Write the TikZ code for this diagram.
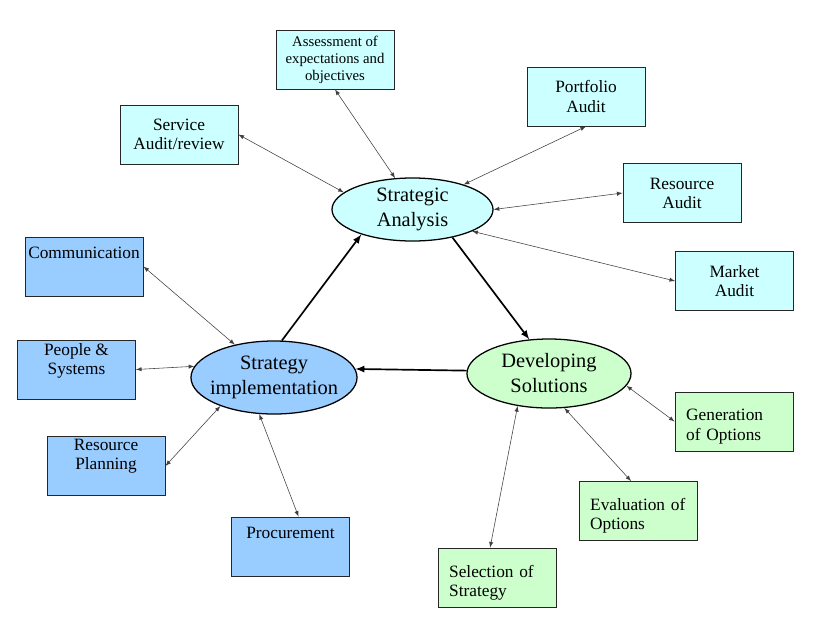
\documentclass[tikz,border=0pt]{standalone}
\usepackage{fontspec}
\setmainfont{Liberation Serif}
\usetikzlibrary{shapes.geometric}

\definecolor{auditcyan}{HTML}{CCFFFF}
\definecolor{planblue}{HTML}{99CCFF}
\definecolor{optgreen}{HTML}{CCFFCC}

\begin{document}
\begin{tikzpicture}[x=0.025cm,y=-0.025cm,
    box/.style={rectangle,draw=black!85,line width=0.6pt,minimum width=2.95cm,minimum height=1.475cm,
      inner sep=0pt,align=center,font=\fontsize{12.3}{13.6}\selectfont},
    audit/.style={box,fill=auditcyan},
    plan/.style={box,fill=planblue},
    option/.style={box,fill=optgreen,text width=68pt,align=left,text depth=9pt},
    lift/.style={text depth=#1},
    hub/.style={ellipse,draw,line width=0.9pt,inner sep=0pt,inner xsep=-4pt,align=center,
      font=\fontsize{14.5}{17.8}\selectfont},
    link/.style={latex-latex,line width=0.4pt,black!75},
    flow/.style={-latex,line width=1.2pt}]
  \useasboundingbox (0,0) rectangle (840,626);

  % the three stages
  \node[hub,fill=auditcyan,minimum width=4.025cm,minimum height=1.575cm] (SA) at (412.5,209.5) {Strategic\\Analysis};
  \node[hub,fill=planblue,minimum width=4.15cm,minimum height=1.825cm] (SI) at (274,377.5) {Strategy\\implementation};
  \node[hub,fill=optgreen,minimum width=4.1cm,minimum height=1.725cm] (DS) at (549,373.5) {Developing\\Solutions};

  \path[flow] (SI.78) edge (SA.-154);
  \path[flow] (SA.-35) edge (DS.120);
  \path[flow] (DS.178) edge (SI.6);

  % analysis
  \node[audit,font=\fontsize{10.5}{12}\selectfont] (Assess) at (335,59.5) {Assessment of\\expectations and\\objectives};
  \node[audit] (Service) at (179,134.5) {Service\\Audit/review};
  \node[audit] (Portfolio) at (586,96.5) {Portfolio\\Audit};
  \node[audit] (ResAudit) at (682,193) {Resource\\Audit};
  \node[audit] (Market) at (734.5,281) {Market\\Audit};
  \path[link] (Assess.south) edge (SA.119);
  \path[link] (Service.east) edge (SA.166);
  \path[link] (Portfolio.south) edge (SA.26);
  \path[link] (ResAudit.west) edge (SA.east);
  \path[link] (Market.west) edge (SA.-20);

  % implementation
  \node[plan,lift=20pt] (Comm) at (84,266.5) {Communication};
  \node[plan,lift=15pt] (People) at (76.5,369.5) {People \&\\Systems};
  \node[plan,lift=16pt] (ResPlan) at (106,466) {Resource\\Planning};
  \node[plan,lift=19pt] (Procure) at (290.5,546.5) {Procurement};
  \path[link] (Comm.east) edge (SI.140);
  \path[link] (People.east) edge (SI.172);
  \path[link] (ResPlan.east) edge (SI.-152);
  \path[link] (Procure.75) edge (SI.-112);

  % solutions
  \node[option] (Gen) at (734,421.5) {Generation\\of Options};
  \node[option] (Eval) at (638,511) {Evaluation of\\Options};
  \node[option] (Select) at (497,577.5) {Selection of\\Strategy};
  \path[link] (DS.-9) edge (Gen.west);
  \path[link] (DS.-66) edge (Eval.103);
  \path[link] (DS.-134) edge (Select.103);
\end{tikzpicture}
\end{document}
